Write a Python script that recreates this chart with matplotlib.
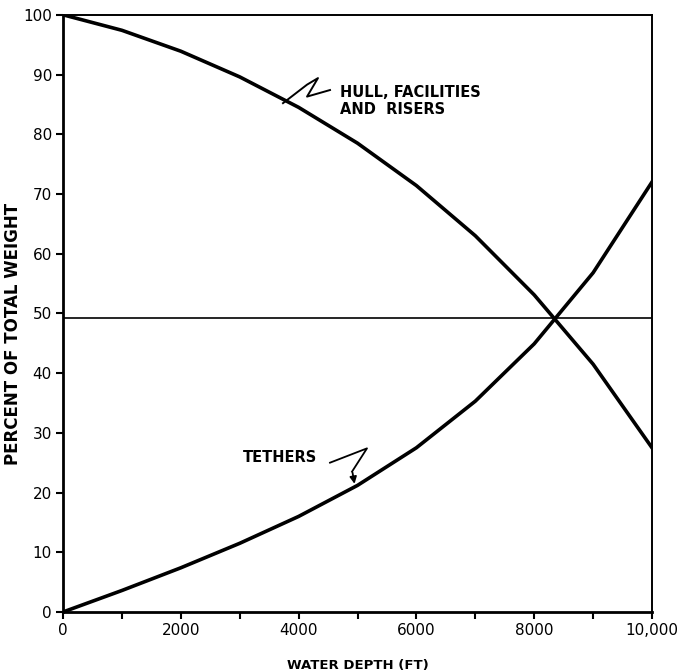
import numpy as np
import matplotlib.pyplot as plt

# courbes (tous les 1000 ft)
profondeur = [0, 1000, 2000, 3000, 4000, 5000, 6000, 7000, 8000, 9000, 10000]
coque = [100, 97.4, 93.9, 89.6, 84.5, 78.5, 71.4, 63.0, 53.1, 41.5, 27.5]
tethers = [0, 3.6, 7.4, 11.5, 16.0, 21.2, 27.5, 35.3, 44.9, 56.8, 72.0]
niveau = 49.3

xticks = [0, 2000, 4000, 6000, 8000, 10000]
xlabels = ["0", "2000", "4000", "6000", "8000", "10,000"]
yticks = [0, 10, 20, 30, 40, 50, 60, 70, 80, 90, 100]

fig = plt.figure(figsize=(6.82, 6.72), dpi=100)
ax = fig.add_axes([0.0924, 0.0893, 0.8636, 0.8887])

ax.plot(profondeur, coque, color="black", lw=2.6, solid_joinstyle="round")
ax.plot(profondeur, tethers, color="black", lw=2.6, solid_joinstyle="round")
ax.axhline(niveau, color="black", lw=1.2)

ax.set_xlim(0, 10000)
ax.set_ylim(0, 100)
ax.set_xticks(xticks)
ax.set_xticklabels(xlabels)
ax.set_xticks(range(1000, 10000, 2000), minor=True)
ax.set_yticks(yticks)
ax.tick_params(axis="both", direction="out", length=5, width=1.5, labelsize=11, pad=3)
ax.tick_params(axis="x", which="minor", direction="out", length=5, width=1.5)
for s in ["left", "bottom"]:
    ax.spines[s].set_linewidth(2)
for s in ["top", "right"]:
    ax.spines[s].set_linewidth(1.4)

ax.set_xlabel("WATER DEPTH (FT)", fontsize=9.5, fontweight="bold")
ax.xaxis.set_label_coords(0.5, -0.078)
ax.set_ylabel("PERCENT OF TOTAL WEIGHT", fontsize=12, fontweight="bold")
ax.yaxis.set_label_coords(-0.07, 0.465)

# fleches en zigzag
ax.plot([4533, 4143, 4329, 4143, 3735], [87.4, 86.3, 89.4, 88.3, 85.2],
        color="black", lw=1.4, solid_joinstyle="round")
ax.text(4700, 85.6, "HULL, FACILITIES\nAND  RISERS", fontsize=10.5, fontweight="bold",
        ha="left", va="center", linespacing=1.15)

ax.plot([4533, 5161, 4907], [25.0, 27.4, 23.5], color="black", lw=1.3)
ax.annotate("", xy=(4958, 21.0), xytext=(4907, 23.8),
            arrowprops=dict(arrowstyle="-|>", color="black", lw=1.3, mutation_scale=10))
ax.text(3056, 25.9, "TETHERS", fontsize=10.5, fontweight="bold", ha="left", va="center")

fig.savefig("out.png", dpi=100)
